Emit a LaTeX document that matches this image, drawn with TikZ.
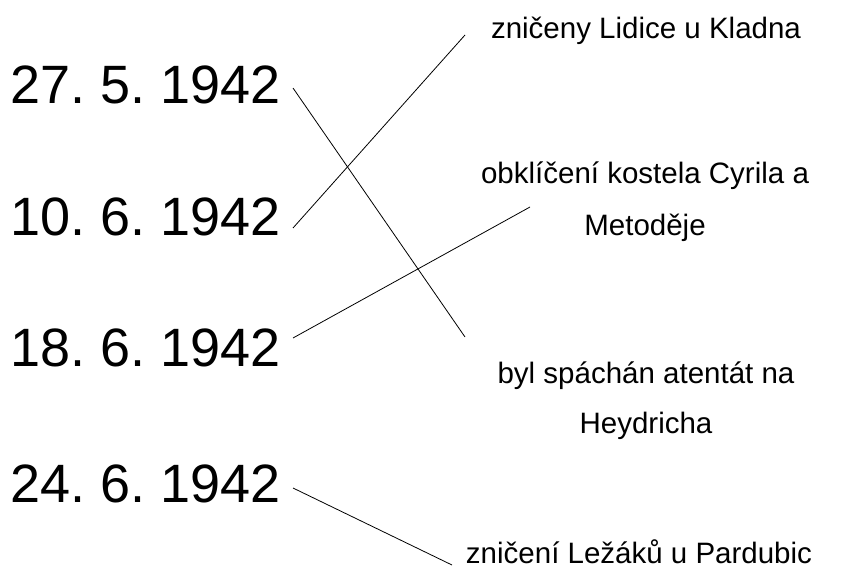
\documentclass[tikz,border=0pt]{standalone}
\usepackage{fontspec}
\setmainfont{Liberation Sans}
\frenchspacing
\begin{document}
\begin{tikzpicture}[x=1pt,y=-1pt,
  datum/.style={anchor=base west,inner sep=0pt,font=\fontsize{54}{60}\selectfont},
  udalost/.style={anchor=base,inner sep=0pt,font=\fontsize{29.5}{36}\selectfont},
  spoj/.style={line width=0.8pt,black}]
\useasboundingbox (0,0) rectangle (845,578);
\node[datum] (d1) at (10,103) {27. 5. 1942};
\node[datum] (d2) at (10,235) {10. 6. 1942};
\node[datum] (d3) at (10,366) {18. 6. 1942};
\node[datum] (d4) at (10,502) {24. 6. 1942};
\node[udalost] (e1) at (646,38) {zničeny Lidice u Kladna};
\node[udalost] (e2) at (645,183) {obklíčení kostela Cyrila a};
\node[udalost] (e2b) at (645,235) {Metoděje};
\node[udalost] (e3) at (646,383) {byl spáchán atentát na};
\node[udalost] (e3b) at (646,433) {Heydricha};
\node[udalost] (e4) at (639,563) {zničení Ležáků u Pardubic};
\coordinate (a1) at (293,88);
\coordinate (b1) at (465,337);
\coordinate (a2) at (293,228);
\coordinate (b2) at (465,35);
\coordinate (a3) at (293,338);
\coordinate (b3) at (530,207);
\coordinate (a4) at (293,488);
\coordinate (b4) at (452,565);
\draw[spoj] (a1) -- (b1);
\draw[spoj] (a2) -- (b2);
\draw[spoj] (a3) -- (b3);
\draw[spoj] (a4) -- (b4);
\end{tikzpicture}
\end{document}
